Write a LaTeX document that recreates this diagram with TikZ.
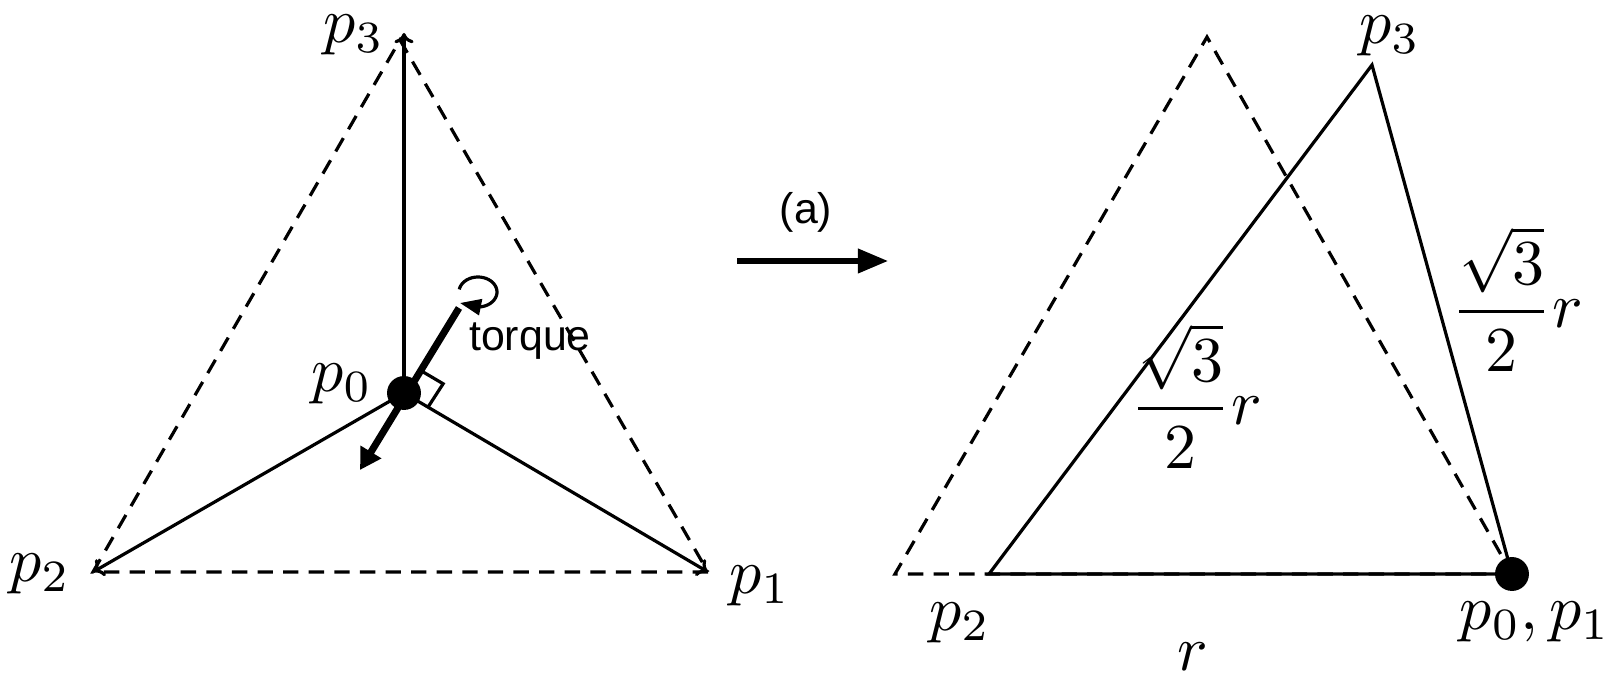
\documentclass[tikz,border=0pt]{standalone}
\usepackage{amsmath}
\usepackage{fontspec}
\newfontfamily\helv{Liberation Sans}
\usetikzlibrary{arrows.meta,calc}
\begin{document}
\begin{tikzpicture}[x=0.0055cm, y=-0.0055cm, every node/.style={inner sep=0.5pt},
	edge/.style={line width=0.5pt},
	hull/.style={line width=0.5pt, dash pattern=on 2.4pt off 1.6pt},
	vtip/.style={-{To[length=1.6pt,width=3pt]}},
	force/.style={line width=1.1pt},
	dot/.style={circle, fill, inner sep=0pt, minimum size=5.3pt},
	sans/.style={font=\helv\fontsize{6.7}{8}\selectfont, inner sep=0pt}]
	\useasboundingbox (0,0) rectangle (1604,676);
	
	% 1. 左图: 原三角形 (虚线)
	\coordinate (a1) at (708,572);
	\coordinate (a2) at (93,572);
	\coordinate (a3) at (400,40);
	\coordinate (b3) at (404,33);
	\draw[hull] (a1) -- (a2) -- (a3) -- cycle;
	
	% 2. p0 与三条连线
	\node[dot] (p0) at (404,393) {};
	\draw[edge, vtip] (p0.center) -- (b3);
	\draw[edge, vtip] (p0.center) -- (a2);
	\draw[edge, vtip] (p0.center) -- (a1);
	
	% 3. 力与力矩
	\coordinate (tq) at (459,308);
	\coordinate (fd) at (360,470);
	\coordinate (tqend) at (460,303);
	\draw[force, -{Triangle[length=3.3pt,width=3.6pt]}] (tq) -- (fd);
	\draw[edge, -{Triangle[length=3.3pt,width=2.5pt]}] plot[smooth, samples=30, domain=190:445]
		({478+19*cos(\x)}, {292+15*sin(\x)}) -- (tqend);
	\node[sans] (tqlbl) at (530,341) {torque};
	
	% 直角记号
	\coordinate (ru) at ($(p0.center)!0.275!(tq)$);
	\coordinate (rv) at ($(p0.center)!0.079!(a1)$);
	\draw[edge] (ru) -- ($(ru)+(rv)-(p0.center)$) -- (rv);
	
	\node (l3) at (354,35) {$p_3$};
	\node (l2) at (40,574) {$p_2$};
	\node (l1) at (760,586) {$p_1$};
	\node (l0) at (342,384) {$p_0$};
	
	% 4. 变换箭头 (a)
	\coordinate (s) at (737,261);
	\coordinate (e) at (888,261);
	\draw[line width=0.8pt, -{Triangle[length=4.7pt,width=3.7pt]}] (s) -- (e);
	\node[sans] (stepa) at (806,212) {(a)};
	
	% 5. 右图: 原三角形 (虚线) 与新三角形 (实线)
	\coordinate (c2) at (895,574);
	\coordinate (c3) at (1207,37);
	\coordinate (q2) at (989,574);
	\coordinate (q3) at (1372,65);
	\node[dot] (q0) at (1512,574) {};
	\draw[hull] (q0.center) -- (c2) -- (c3) -- cycle;
	\draw[edge] (q2) -- (q3) -- (q0.center) -- cycle;
	
	\node (m3) at (1390,36) {$p_3$};
	\node (m2) at (960,623) {$p_2$};
	\node (m0) at (1535,622) {$p_0,p_1$};
	\node[inner sep=0pt] (mr) at (1193,657) {$r$};
	\node (fl) at (1196,396) {$\dfrac{\sqrt{3}}{2}r$};
	\node (fr) at (1517,299) {$\dfrac{\sqrt{3}}{2}r$};
\end{tikzpicture}
\end{document}
